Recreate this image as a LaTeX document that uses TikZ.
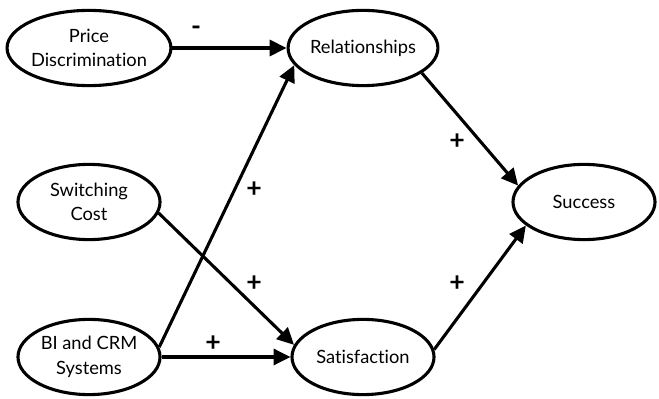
\documentclass[tikz,border=0pt]{standalone}
\usepackage{fontspec}
\setmainfont{Lato}[Ligatures=NoCommon]
\usetikzlibrary{shapes.geometric,arrows.meta}
\begin{document}
\begin{tikzpicture}[x=0.025cm, y=-0.025cm, font=\fontsize{13}{17.5}\selectfont]
    \tikzstyle{construct} = [ellipse, draw=black, line width=2.2pt, minimum width=3.55cm, minimum height=1.88cm, inner sep=0pt, align=center]
    \tikzstyle{link} = [line width=2.2pt, -{Triangle[length=4.2mm,width=4mm]}]
    \tikzstyle{sign} = [font=\fontsize{19}{19}\selectfont\bfseries]

    \useasboundingbox (0,0) rectangle (659,399);

    \node[construct] (price) at (89,48) {Price\\Discrimination};
    \node[construct] (switch) at (89,202) {Switching\\Cost};
    \node[construct] (bicrm) at (89,357) {BI and CRM\\Systems};
    \node[construct] (rel) at (363,48) {Relationships};
    \node[construct] (sat) at (363,357) {Satisfaction};
    \node[construct] (succ) at (584,202) {Success};

    \draw[link] (price.east) -- (rel.west);
    \draw[link] (bicrm.8) -- (rel.194);
    \draw[link] (switch.351) -- (sat.170);
    \draw[link] (bicrm.east) -- (sat.west);
    \draw[link] (rel.337) -- (succ.166);
    \draw[link] (sat.6) -- (succ.202);

    % signs of the paths
    \node[sign] (s1) at (196,31) {-};
    \node[sign] (s2) at (254,190) {+};
    \node[sign] (s3) at (254,284) {+};
    \node[sign] (s4) at (213,344) {+};
    \node[sign] (s5) at (457,142) {+};
    \node[sign] (s6) at (457,284) {+};
\end{tikzpicture}
\end{document}
